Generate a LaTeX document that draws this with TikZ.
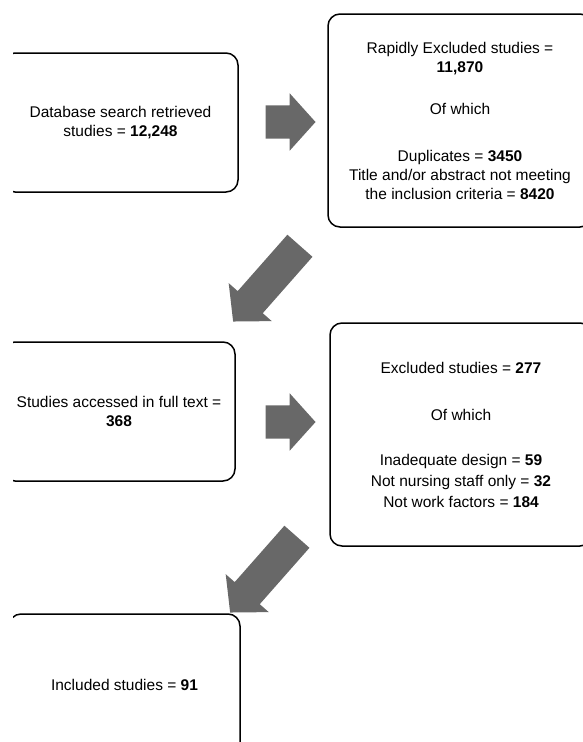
\documentclass[tikz,border=0pt]{standalone}
\usepackage{fontspec}
\setmainfont{Liberation Sans}
\usetikzlibrary{shapes.arrows}
\definecolor{arrowgrey}{RGB}{104,104,104}

\begin{document}
\begin{tikzpicture}[x=1pt, y=-1pt,
        flowbox/.style={draw=black, line width=1.5pt, rounded corners=12pt,
            align=center, inner sep=0pt, font=\fontsize{15.5}{19}\selectfont},
        blockarrow/.style={single arrow, fill=arrowgrey, draw=none,
            inner xsep=0pt, inner ysep=16.5pt, single arrow head extend=12pt,
            single arrow tip angle=96, minimum height=#1},
        blockarrow/.default=50pt]
        \useasboundingbox (0, 0) rectangle (583, 742);

        \begin{scope}
        \clip (13, 0) rectangle (583, 742);
        \node [flowbox, minimum width=235pt, minimum height=139pt] (search) at (120.5, 122.5)
            {Database search retrieved\\ studies = \textbf{12,248}};
        \node [flowbox, minimum width=264pt, minimum height=213pt] (rapid) at (460, 120.5)
            {Rapidly Excluded studies =\\ \textbf{11,870}\\[23pt] Of which\\[28pt]
             Duplicates = \textbf{3450}\\ Title and/or abstract not meeting\\
             the inclusion criteria = \textbf{8420}};
        \node [flowbox, minimum width=232pt, minimum height=139pt] (fulltext) at (119, 411.5)
            {Studies accessed in full text =\\ \textbf{368}};
        \node [flowbox, minimum width=262pt, minimum height=223pt] (excluded) at (461, 434.5)
            {Excluded studies = \textbf{277}\\[28pt] Of which\\[26pt]
             Inadequate design = \textbf{59}\\[2pt] Not nursing staff only = \textbf{32}\\[2pt]
             Not work factors = \textbf{184}};
        \node [flowbox, minimum width=231pt, minimum height=142pt] (included) at (124.5, 685)
            {Included studies = \textbf{91}};
        \end{scope}

        \node [blockarrow] (arrsearch) at (283, 122) {};
        \node [blockarrow] (arrfull) at (283, 422) {};
        \node [blockarrow=101pt, rotate=228.6] (arrrapid) at (271.5, 278) {};
        \node [blockarrow=101pt, rotate=228.6] (arrexcl) at (268.5, 569) {};
    \end{tikzpicture}
\end{document}
